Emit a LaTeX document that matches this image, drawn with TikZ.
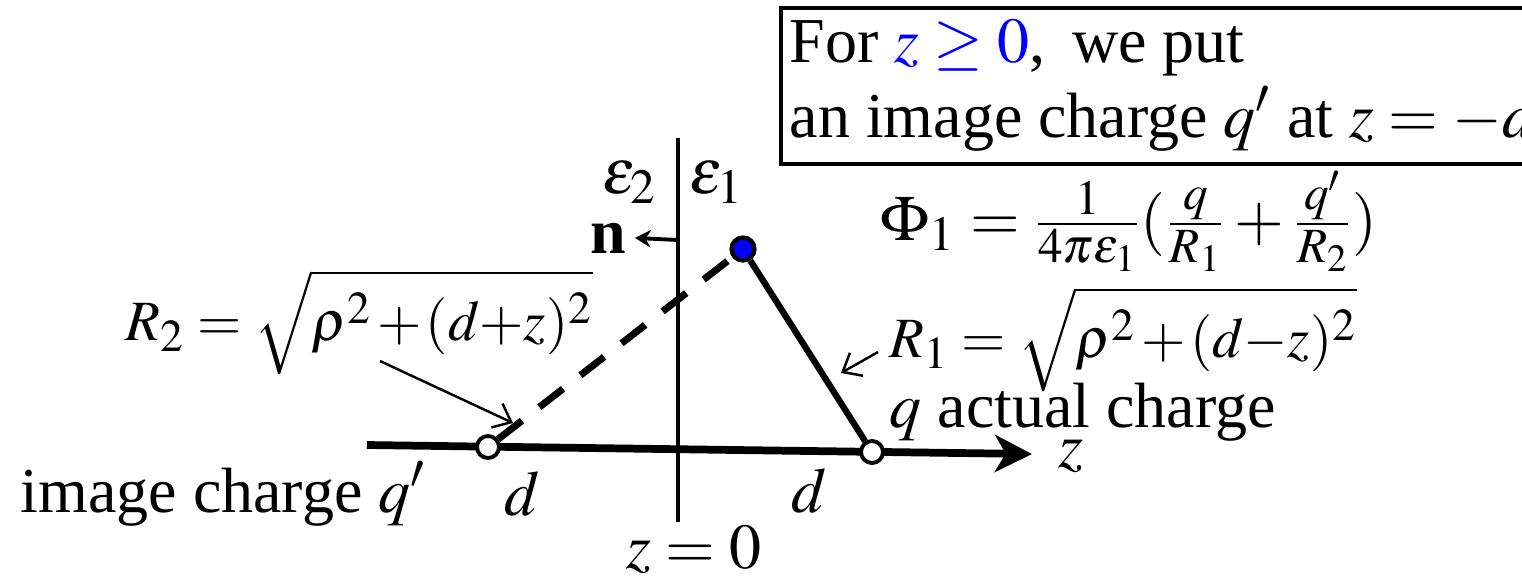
\documentclass[tikz,border=0pt]{standalone}
\usepackage{mathptmx}
\usepackage[no-math]{fontspec}
\setmainfont{Liberation Serif}
\usepackage{tikz}
\usetikzlibrary{arrows.meta,positioning}
\DeclareMathSizes{18.2}{18.2}{14}{11}
\DeclareMathSizes{16.2}{16.2}{13}{10}
\newcommand{\apretado}{\thickmuskip=4mu\relax\medmuskip=1.5mu\relax}
\tikzset{
  texto/.style={
    inner sep=0pt,
    font=\fontsize{18.2}{22}\selectfont
  },
  formula/.style={
    inner sep=0pt,
    font=\fontsize{16.2}{20}\selectfont
  },
  eje/.style={
    line width=2.2pt,
    -{Stealth[length=10.5pt,width=10.5pt,inset=3pt]}
  },
  plano/.style={
    line width=0.9pt
  },
  carga/.style={
    circle,
    draw=black,
    fill=white,
    line width=1.1pt,
    minimum size=0.22cm,
    inner sep=0pt
  },
  punto/.style={
    circle,
    draw=black,
    fill=blue,
    line width=1.2pt,
    minimum size=0.23cm,
    inner sep=0pt
  },
  caja/.style={
    draw=black,
    line width=1.2pt,
    minimum width=9cm,
    minimum height=1.56cm,
    inner sep=0pt
  },
  flecha/.style={
    -{Straight Barb[length=4.5pt,width=7.5pt]},
    line width=0.7pt
  },
  flechan/.style={
    -{Stealth[length=4.5pt,width=5pt]},
    line width=1.1pt
  }
}

\begin{document}
\begin{tikzpicture}[x=0.01cm,y=-0.01cm]
\clip (0,0) rectangle (1522,575);
% ejes
\coordinate (ini) at (367,445);
\coordinate (fin) at (1032,454);
\coordinate (arriba) at (678,138);
\coordinate (abajo) at (678,522);
\draw[eje] (ini) -- (fin);
\draw[plano] (arriba) -- (abajo);
% cargas
\node[punto] (p) at (743,249) {};
\node[carga] (qi) at (488,447) {};
\node[carga] (qa) at (872,452) {};
\draw[line width=2pt, dash pattern=on 0.3cm off 0.22cm] (qi) -- (p);
\draw[line width=1.8pt] (p) -- (qa);
% normal
\node[texto, anchor=base east, inner xsep=0.08cm] (n) at (635,253) {\textbf{n}};
\coordinate (nbase) at (678,240);
\draw[flechan] (nbase) -- (n.east);
\node[texto, anchor=base] (e2) at (630,193) {$\varepsilon_2$};
\node[texto, anchor=base] (e1) at (717,193) {$\varepsilon_1$};
% recuadro
\node[caja, anchor=north west] (caja) at (779,6) {};
\node[texto, anchor=base west] (l1) at (789,62) {For {\color{blue}$z\geq 0$},\, we put};
\node[texto, anchor=base west] (l2) at (789,137) {an image charge $q'$ at $z=-d$.};
% formulas
\node[texto, anchor=base west] (phi) at (880,240)
  {$\Phi_1=\frac{1}{4\pi\varepsilon_1}(\frac{q}{R_1}+\frac{q'}{R_2})$};
\node[formula, anchor=base west] (r1) at (889,357)
  {$\apretado R_1=\sqrt{\vphantom{\big(}\rho^2+(d{-}z)^2}$};
\node[formula, anchor=base west] (r2) at (125,340)
  {$\apretado R_2=\sqrt{\vphantom{\big(}\rho^2+(d{+}z)^2}$};
\coordinate (r1a) at (878,352);
\coordinate (r1b) at (841,373);
\coordinate (r2a) at (380,361);
\coordinate (r2b) at (513,423);
\draw[flecha] (r1a) -- (r1b);
\draw[flecha] (r2a) -- (r2b);
% etiquetas
\node[texto, anchor=base west] (act) at (889,427) {$q$ actual charge};
\node[texto, anchor=base west] (z) at (1058,467) {$z$};
\node[texto, anchor=base west] (img) at (20,512) {image charge $q'$};
\node[texto, anchor=base] (d1) at (522,515) {$d$};
\node[texto, anchor=base] (d2) at (809,512) {$d$};
\node[texto, anchor=base west] (z0) at (626,568) {$z=0$};
\end{tikzpicture}
\end{document}
